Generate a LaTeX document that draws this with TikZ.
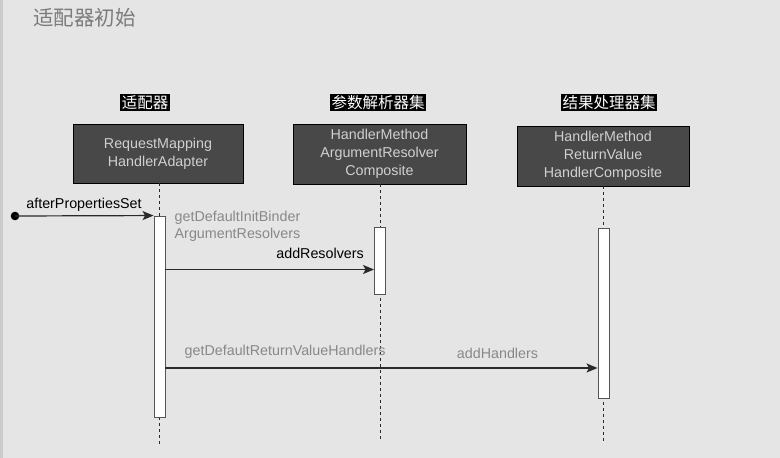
\documentclass[tikz,border=0pt]{standalone}
\usepackage{fontspec}
\setmainfont{Liberation Sans}
\newfontfamily\cjk{Noto Sans CJK SC}
\usetikzlibrary{arrows.meta}
\definecolor{bgc}{HTML}{E5E5E5}
\definecolor{stripc}{HTML}{CBCBCB}
\definecolor{headfill}{HTML}{484848}
\definecolor{headtext}{HTML}{D0D0D0}
\definecolor{greytext}{HTML}{888888}
\definecolor{titlec}{HTML}{7B7B7B}
\definecolor{linec}{HTML}{2A2A2A}
\definecolor{actborder}{HTML}{555555}
\tikzset{
  head/.style={draw=black, line width=0.8pt, fill=headfill, text=headtext, minimum width=170pt, minimum height=59pt, align=center, inner sep=0pt, font=\fontsize{14.3}{18}\selectfont},
  cjklabel/.style={fill=black, text=white, inner sep=1.5pt, font=\cjk\fontsize{15.5}{17}\selectfont},
  life/.style={draw=linec, line width=0.9pt, dash pattern=on 3pt off 3pt},
  act/.style={draw=actborder, line width=0.9pt, fill=white, minimum width=11pt, inner sep=0pt},
  msg/.style={draw=linec, line width=1.2pt, -{Stealth[length=11pt,width=9pt,inset=2.5pt]}},
  msgtext/.style={inner sep=0pt, font=\fontsize{14.3}{17}\selectfont},
  greylabel/.style={msgtext, text=greytext, align=left}
}
\begin{document}
\begin{tikzpicture}[x=1pt,y=-1pt]
\useasboundingbox (0,0) rectangle (780,458);
\fill[bgc] (0,0) rectangle (780,458);
\fill[stripc] (0,0) rectangle (3,458);

% title
\node[anchor=west, inner sep=0pt, text=titlec, font=\cjk\fontsize{20.5}{22}\selectfont] (title) at (33,18) {适配器初始};

% lifeline heads
\node[head] (h1) at (158,153.5) {RequestMapping\\HandlerAdapter};
\node[head, minimum width=173pt, minimum height=60pt] (h2) at (379.5,154) {HandlerMethod\\ArgumentResolver\\Composite};
\node[head, minimum width=172pt, minimum height=60pt] (h3) at (603,156) {HandlerMethod\\ReturnValue\\HandlerComposite};

% chinese labels
\node[cjklabel] (l1) at (145,102.5) {适配器};
\node[cjklabel] (l2) at (378,102.5) {参数解析器集};
\node[cjklabel] (l3) at (609,102.5) {结果处理器集};

% lifeline ends
\coordinate (e1) at (159.5,445);
\coordinate (e2) at (380,442);
\coordinate (e3) at (603.5,443);
\draw[life] (h1.south -| e1) -- (e1);
\draw[life] (h2.south -| e2) -- (e2);
\draw[life] (h3.south -| e3) -- (e3);

% activations
\node[act, minimum height=201pt] (a1) at (159.5,316.5) {};
\node[act, minimum height=67pt] (a2) at (380,260.5) {};
\node[act, minimum height=170pt] (a3) at (603.5,313) {};

% messages
\fill[black] (15,216) circle (4.3pt);
\coordinate (s0) at (15,216);
\draw[msg] (s0) -- (a1.north west);
\node[msgtext] (t0) at (84,205) {afterPropertiesSet};

\coordinate (m2) at (0,269.5);
\draw[msg] (a1.east |- m2) -- (a2.west |- m2);
\node[greylabel, anchor=west] (t1) at (174.5,226) {getDefaultInitBinder\\ArgumentResolvers};
\node[msgtext, anchor=east] (t2) at (364,253) {addResolvers};

\coordinate (m3) at (0,368);
\draw[msg] (a1.east |- m3) -- (a3.west |- m3);
\node[greylabel, anchor=west] (t3) at (184.5,352) {getDefaultReturnValueHandlers};
\node[greylabel] (t4) at (497.5,353) {addHandlers};
\end{tikzpicture}
\end{document}
